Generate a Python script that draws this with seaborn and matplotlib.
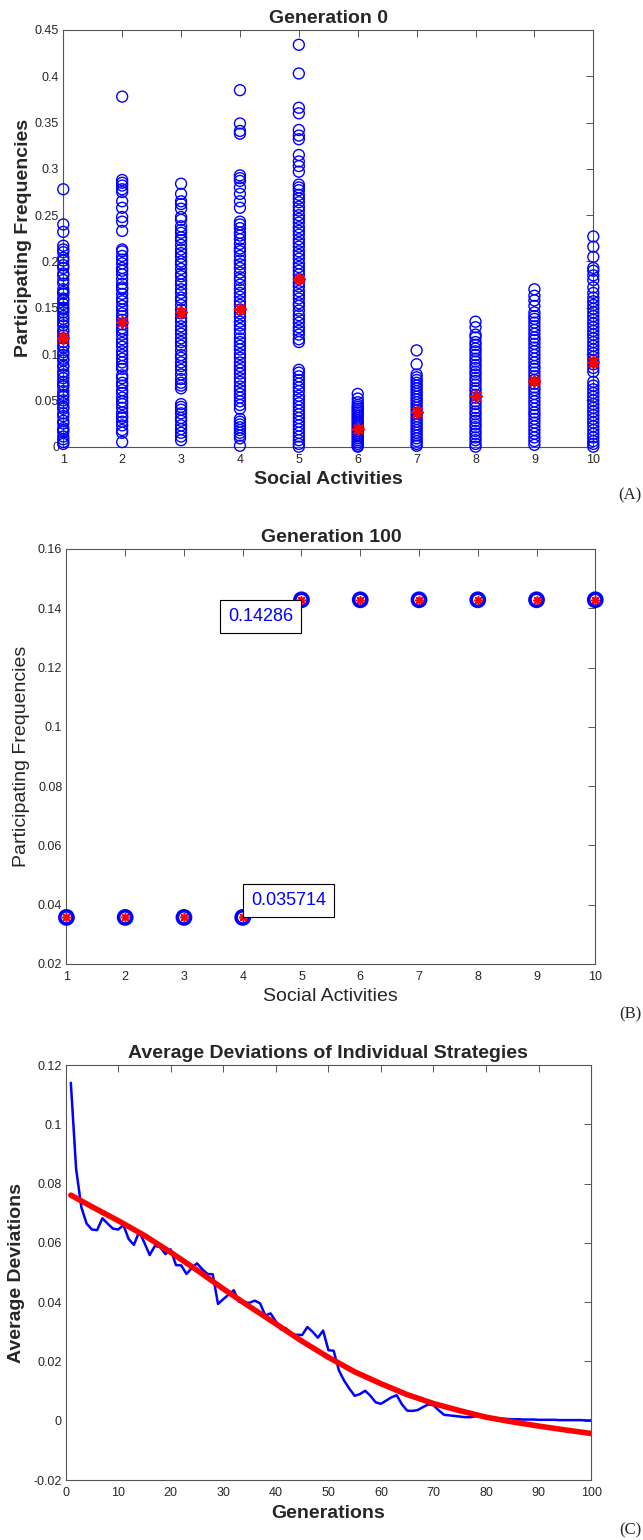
import numpy as np
import pandas as pd
import seaborn as sns
import matplotlib.pyplot as plt
from matplotlib.ticker import FuncFormatter

# Panel A: participating frequency of every individual at generation 0, per activity
gen0_act1 = [0.278, 0.240, 0.232, 0.217, 0.213, 0.210, 0.204, 0.201, 0.196, 0.193, 0.187, 0.185,
             0.180, 0.176, 0.170, 0.167, 0.165, 0.160, 0.158, 0.154, 0.150, 0.148, 0.145, 0.141,
             0.138, 0.134, 0.131, 0.126, 0.124, 0.120, 0.117, 0.113, 0.109, 0.107, 0.102, 0.099,
             0.095, 0.093, 0.088, 0.086, 0.081, 0.078, 0.074, 0.070, 0.067, 0.065, 0.060, 0.056,
             0.054, 0.050, 0.047, 0.043, 0.041, 0.036, 0.033, 0.028, 0.025, 0.020, 0.018, 0.016,
             0.011, 0.008, 0.005, 0.003]
gen0_act2 = [0.378, 0.288, 0.285, 0.282, 0.278, 0.275, 0.265, 0.258, 0.248, 0.243, 0.233, 0.213,
             0.211, 0.206, 0.202, 0.198, 0.193, 0.190, 0.186, 0.181, 0.176, 0.172, 0.170, 0.165,
             0.160, 0.157, 0.152, 0.148, 0.144, 0.141, 0.137, 0.132, 0.128, 0.125, 0.121, 0.116,
             0.112, 0.108, 0.103, 0.099, 0.095, 0.091, 0.087, 0.084, 0.077, 0.074, 0.069, 0.066,
             0.061, 0.058, 0.053, 0.049, 0.046, 0.042, 0.037, 0.033, 0.031, 0.027, 0.023, 0.018,
             0.015, 0.005]
gen0_act3 = [0.284, 0.273, 0.265, 0.262, 0.257, 0.248, 0.245, 0.238, 0.234, 0.231, 0.226, 0.223,
             0.218, 0.213, 0.209, 0.205, 0.200, 0.197, 0.192, 0.187, 0.184, 0.179, 0.175, 0.170,
             0.166, 0.161, 0.158, 0.153, 0.148, 0.144, 0.139, 0.135, 0.130, 0.126, 0.122, 0.117,
             0.113, 0.109, 0.104, 0.099, 0.096, 0.091, 0.087, 0.083, 0.078, 0.073, 0.069, 0.066,
             0.063, 0.046, 0.043, 0.040, 0.036, 0.031, 0.028, 0.023, 0.019, 0.015, 0.011, 0.007]
gen0_act4 = [0.385, 0.349, 0.341, 0.338, 0.293, 0.290, 0.287, 0.280, 0.273, 0.265, 0.258, 0.243,
             0.240, 0.236, 0.231, 0.228, 0.224, 0.219, 0.214, 0.211, 0.206, 0.201, 0.197, 0.193,
             0.188, 0.183, 0.180, 0.175, 0.170, 0.166, 0.162, 0.157, 0.153, 0.148, 0.144, 0.140,
             0.135, 0.131, 0.127, 0.122, 0.117, 0.113, 0.109, 0.105, 0.100, 0.096, 0.091, 0.087,
             0.083, 0.079, 0.074, 0.070, 0.065, 0.061, 0.057, 0.053, 0.049, 0.045, 0.041, 0.030,
             0.027, 0.024, 0.021, 0.018, 0.015, 0.012, 0.009, 0.001]
gen0_act5 = [0.434, 0.403, 0.366, 0.360, 0.342, 0.336, 0.332, 0.315, 0.308, 0.303, 0.297, 0.283,
             0.280, 0.277, 0.272, 0.268, 0.264, 0.259, 0.255, 0.250, 0.246, 0.242, 0.237, 0.233,
             0.229, 0.224, 0.220, 0.216, 0.211, 0.207, 0.203, 0.198, 0.194, 0.190, 0.186, 0.181,
             0.177, 0.173, 0.168, 0.164, 0.160, 0.155, 0.152, 0.147, 0.142, 0.138, 0.134, 0.129,
             0.125, 0.121, 0.116, 0.113, 0.083, 0.080, 0.076, 0.072, 0.068, 0.064, 0.060, 0.055,
             0.051, 0.047, 0.043, 0.039, 0.035, 0.031, 0.027, 0.023, 0.019, 0.015, 0.011, 0.007,
             0.003, 0.000]
gen0_act6 = [0.057, 0.052, 0.048, 0.045, 0.043, 0.041, 0.039, 0.037, 0.035, 0.033, 0.031, 0.029,
             0.027, 0.025, 0.023, 0.021, 0.019, 0.017, 0.015, 0.013, 0.011, 0.009, 0.007, 0.005,
             0.003, 0.001, 0.000]
gen0_act7 = [0.104, 0.089, 0.078, 0.075, 0.072, 0.069, 0.066, 0.063, 0.060, 0.057, 0.054, 0.051,
             0.048, 0.045, 0.042, 0.039, 0.036, 0.033, 0.030, 0.027, 0.024, 0.021, 0.018, 0.015,
             0.012, 0.009, 0.006, 0.003, 0.001]
gen0_act8 = [0.135, 0.129, 0.121, 0.118, 0.113, 0.110, 0.106, 0.103, 0.099, 0.095, 0.092, 0.088,
             0.085, 0.081, 0.078, 0.074, 0.071, 0.067, 0.063, 0.060, 0.056, 0.053, 0.049, 0.046,
             0.042, 0.038, 0.035, 0.031, 0.028, 0.024, 0.021, 0.017, 0.014, 0.010, 0.007, 0.003,
             0.000]
gen0_act9 = [0.170, 0.163, 0.158, 0.152, 0.145, 0.141, 0.138, 0.134, 0.130, 0.126, 0.122, 0.118,
             0.115, 0.111, 0.107, 0.103, 0.099, 0.095, 0.091, 0.087, 0.084, 0.080, 0.076, 0.072,
             0.068, 0.064, 0.061, 0.057, 0.053, 0.049, 0.045, 0.041, 0.037, 0.034, 0.030, 0.026,
             0.022, 0.018, 0.014, 0.010, 0.006, 0.002]
gen0_act10 = [0.227, 0.216, 0.205, 0.193, 0.190, 0.185, 0.180, 0.172, 0.166, 0.161, 0.157, 0.153,
              0.149, 0.145, 0.141, 0.137, 0.133, 0.129, 0.125, 0.121, 0.117, 0.113, 0.109, 0.105,
              0.101, 0.097, 0.093, 0.089, 0.085, 0.081, 0.070, 0.066, 0.062, 0.058, 0.054, 0.050,
              0.046, 0.042, 0.038, 0.034, 0.030, 0.026, 0.022, 0.018, 0.014, 0.010, 0.006, 0.003,
              0.000]
gen0_means = [0.117, 0.135, 0.145, 0.149, 0.181, 0.019, 0.038, 0.055, 0.071, 0.091]

# Panel B: generation 100
activities = [1, 2, 3, 4, 5, 6, 7, 8, 9, 10]
gen100_freq = [0.035714, 0.035714, 0.035714, 0.035714, 0.14286, 0.14286, 0.14286, 0.14286,
               0.14286, 0.14286]

# Panel C: average deviation per generation and the fitted trend
generations = list(range(1, 101))
avg_dev = [0.1140, 0.0850, 0.0720, 0.0665, 0.0645, 0.0643, 0.0683, 0.0665, 0.0648, 0.0645,
           0.0660, 0.0613, 0.0593, 0.0638, 0.0600, 0.0559, 0.0590, 0.0585, 0.0562, 0.0578,
           0.0525, 0.0524, 0.0495, 0.0515, 0.0531, 0.0511, 0.0495, 0.0494, 0.0394, 0.0410,
           0.0425, 0.0440, 0.0401, 0.0399, 0.0398, 0.0405, 0.0396, 0.0355, 0.0362, 0.0335,
           0.0308, 0.0311, 0.0289, 0.0290, 0.0289, 0.0316, 0.0300, 0.0280, 0.0304, 0.0238,
           0.0236, 0.0170, 0.0135, 0.0108, 0.0084, 0.0090, 0.0101, 0.0084, 0.0062, 0.0057,
           0.0068, 0.0079, 0.0086, 0.0055, 0.0034, 0.0033, 0.0036, 0.0046, 0.0055, 0.0052,
           0.0035, 0.0020, 0.0018, 0.0016, 0.0014, 0.0012, 0.0012, 0.0015, 0.0014, 0.0008,
           0.0008, 0.0008, 0.0007, 0.0006, 0.0005, 0.0005, 0.0004, 0.0004, 0.0004, 0.0003,
           0.0003, 0.0003, 0.0003, 0.0002, 0.0002, 0.0002, 0.0002, 0.0002, 0.0001, 0.0001]
fit_gen = [1, 5, 10, 15, 20, 25, 30, 35, 40, 45, 50, 55, 60, 65, 70, 75, 80, 85, 90, 95, 100]
fit_dev = [0.0761, 0.0722, 0.0675, 0.0625, 0.0568, 0.0508, 0.0445, 0.0385, 0.0327, 0.0268,
           0.0214, 0.0165, 0.0125, 0.0088, 0.0058, 0.0034, 0.0012, -0.0004, -0.0018, -0.0031,
           -0.0043]

sns.set_theme(style="white")
plt.rcParams["font.family"] = ["Liberation Sans", "DejaVu Sans"]

BLUE = "#0000ff"
RED = "#ff0000"
GREY = "#262626"
ASTERISK = (8, 2, 0)


def style_axes(ax):
    """MATLAB-like box with inward ticks on all four sides."""
    for sp in ax.spines.values():
        sp.set_color("#555555")
        sp.set_linewidth(0.8)
    ax.tick_params(direction="in", length=5, width=0.7, color="#555555",
                   top=True, right=True, labelsize=9, labelcolor=GREY)
    ax.tick_params(axis="x", pad=5)
    ax.tick_params(axis="y", pad=3)
    ax.yaxis.set_major_formatter(FuncFormatter(lambda v, p: f"{v:g}"))


fig = plt.figure(figsize=(6.43, 15.40), dpi=100)
ax_a = fig.add_axes([0.0984, 0.70994, 0.8243, 0.2706])
ax_b = fig.add_axes([0.1033, 0.37403, 0.8225, 0.26948])
ax_c = fig.add_axes([0.1020, 0.03896, 0.8174, 0.26948])

# ---- (A) Generation 0
gen0 = [gen0_act1, gen0_act2, gen0_act3, gen0_act4, gen0_act5,
        gen0_act6, gen0_act7, gen0_act8, gen0_act9, gen0_act10]
df_a = pd.DataFrame([(act, v) for act, vals in zip(activities, gen0) for v in vals],
                    columns=["activity", "freq"])
sns.scatterplot(data=df_a, x="activity", y="freq", ax=ax_a, marker="o", s=62,
                facecolors="none", edgecolor=BLUE, linewidth=1.0, clip_on=False, zorder=3)
sns.scatterplot(x=activities, y=gen0_means, ax=ax_a, marker=ASTERISK, s=65,
                color=RED, edgecolor=RED, linewidth=1.4, clip_on=False, zorder=4)
ax_a.set_xlim(1, 10)
ax_a.set_ylim(0, 0.45)
ax_a.set_xticks(activities)
ax_a.set_yticks(np.arange(0, 0.451, 0.05))
style_axes(ax_a)
ax_a.set_title("Generation 0", fontsize=14, fontweight="bold", pad=5)
ax_a.set_xlabel("Social Activities", fontsize=14, fontweight="bold", labelpad=4)
ax_a.set_ylabel("Participating Frequencies", fontsize=14, fontweight="bold", labelpad=2)

# ---- (B) Generation 100
sns.scatterplot(x=activities, y=gen100_freq, ax=ax_b, marker="o", s=90,
                facecolors="none", edgecolor=BLUE, linewidth=2.6, clip_on=False, zorder=3)
sns.scatterplot(x=activities, y=gen100_freq, ax=ax_b, marker=ASTERISK, s=30,
                color=RED, edgecolor=RED, linewidth=1.2, clip_on=False, zorder=4)
ax_b.set_xlim(1, 10)
ax_b.set_ylim(0.02, 0.16)
ax_b.set_xticks(activities)
ax_b.set_yticks(np.arange(0.02, 0.161, 0.02))
style_axes(ax_b)
ax_b.set_title("Generation 100", fontsize=14, fontweight="bold", pad=5)
ax_b.set_xlabel("Social Activities", fontsize=14, labelpad=4)
ax_b.set_ylabel("Participating Frequencies", fontsize=14, labelpad=6)

box = dict(boxstyle="square,pad=0.45", fc="white", ec="black", lw=0.8)
ax_b.annotate(f"{gen100_freq[4]:.5f}", xy=(5, gen100_freq[4]), xytext=(-6, -6),
              textcoords="offset points", ha="right", va="top", fontsize=13,
              color=BLUE, bbox=box, zorder=5)
ax_b.annotate(f"{gen100_freq[3]:.5g}", xy=(4, gen100_freq[3]), xytext=(6, 6),
              textcoords="offset points", ha="left", va="bottom", fontsize=13,
              color=BLUE, bbox=box, zorder=5)

# ---- (C) Average deviations
sns.lineplot(x=generations, y=avg_dev, ax=ax_c, color=BLUE, linewidth=1.8, zorder=3)
sns.lineplot(x=fit_gen, y=fit_dev, ax=ax_c, color=RED, linewidth=4.0, zorder=4)
ax_c.set_xlim(0, 100)
ax_c.set_ylim(-0.02, 0.12)
ax_c.set_xticks(range(0, 101, 10))
ax_c.set_yticks(np.arange(-0.02, 0.121, 0.02))
style_axes(ax_c)
ax_c.set_title("Average Deviations of Individual Strategies", fontsize=14,
               fontweight="bold", pad=5)
ax_c.set_xlabel("Generations", fontsize=14, fontweight="bold", labelpad=4)
ax_c.set_ylabel("Average Deviations", fontsize=14, fontweight="bold", labelpad=6)

for label, y in [("(A)", 0.678), ("(B)", 0.341), ("(C)", 0.006)]:
    fig.text(0.997, y, label, ha="right", va="center", fontsize=12,
             family=["Liberation Serif", "DejaVu Serif"])

fig.savefig("out.png", dpi=100)
